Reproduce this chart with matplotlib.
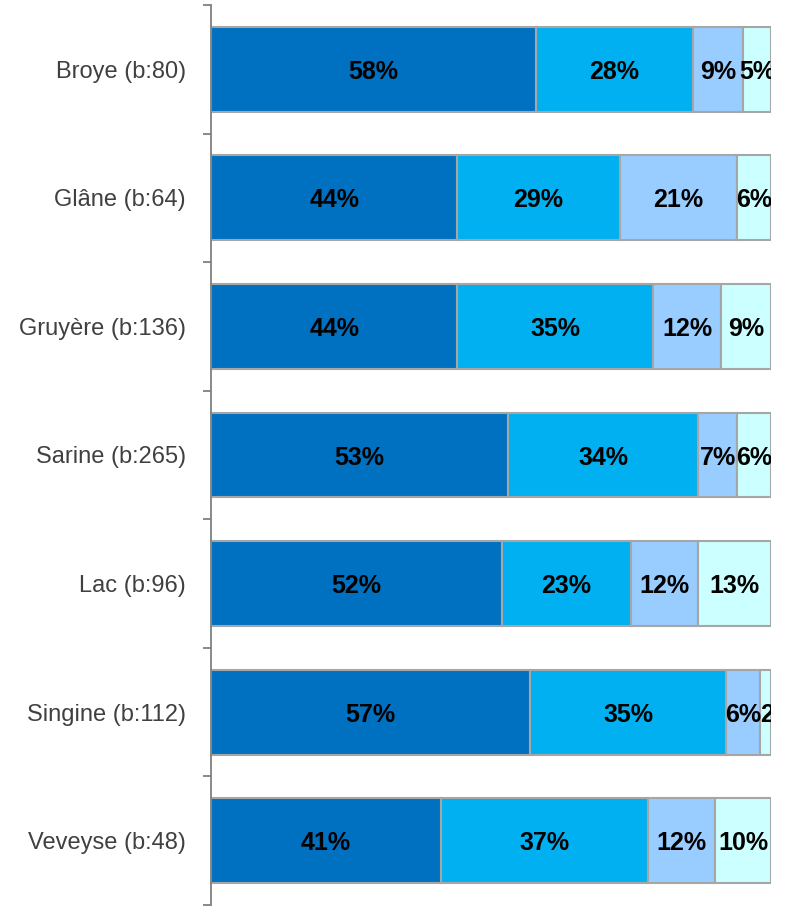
import numpy as np
import matplotlib.pyplot as plt
from matplotlib.ticker import FixedLocator

plt.rcParams['font.family'] = ['Liberation Sans', 'DejaVu Sans']

# data
districts = ['Broye (b:80)', 'Glâne (b:64)', 'Gruyère (b:136)', 'Sarine (b:265)',
             'Lac (b:96)', 'Singine (b:112)', 'Veveyse (b:48)']
s1 = [58, 44, 44, 53, 52, 57, 41]
s2 = [28, 29, 35, 34, 23, 35, 37]
s3 = [9, 21, 12, 7, 12, 6, 12]
s4 = [5, 6, 9, 6, 13, 2, 10]
series = [s1, s2, s3, s4]
colors = ['#0070C0', '#00B0F0', '#99CCFF', '#CCFFFF']

fig = plt.figure(figsize=(7.86, 9.06), dpi=100)
ax = fig.add_axes([211 / 786, 1 / 906, (771 - 211) / 786, 900 / 906])

y = np.arange(len(districts))
left = np.zeros(len(districts))
for vals, col in zip(series, colors):
    vals = np.array(vals, dtype=float)
    ax.barh(y, vals, left=left, height=0.66, color=col,
            edgecolor='#A6A6A6', linewidth=1.5)
    for yi, (l, v) in enumerate(zip(left, vals)):
        # tiny segments: label starts at the segment and gets clipped
        if v < 4:
            x, ha = l, 'left'
        else:
            x, ha = l + v / 2, 'center'
        ax.text(x, yi + 0.02, f'{int(v)}%', ha=ha, va='center',
                fontsize=18, fontweight='bold', color='black', clip_on=True)
    left += vals

ax.set_xlim(0, 100)
ax.set_ylim(len(districts) - 0.5, -0.5)
ax.set_yticks(y)
ax.set_yticklabels(districts, fontsize=17, color='#404040')
ax.yaxis.set_minor_locator(FixedLocator(np.arange(-0.5, len(districts), 1)))
ax.tick_params(axis='y', which='major', length=0, pad=18)
ax.tick_params(axis='y', which='minor', length=6, width=1.3, color='#808080')
ax.set_xticks([])
for s in ['top', 'right', 'bottom']:
    ax.spines[s].set_visible(False)
ax.spines['left'].set_color('#808080')
ax.spines['left'].set_linewidth(1.3)

fig.savefig('out.png', dpi=100)
